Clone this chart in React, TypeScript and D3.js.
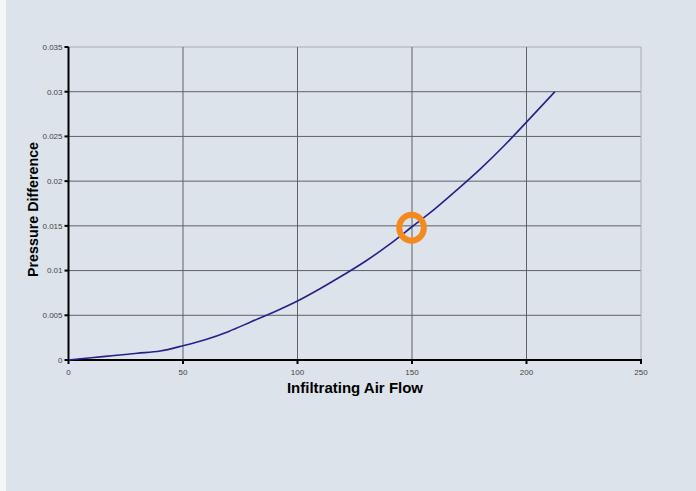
import React from "react";
import * as d3 from "d3";

const flow = [0, 10, 20, 30, 40, 50, 60, 70, 80, 90, 100, 110, 120, 130, 140, 150, 160, 170, 180, 190, 200, 212.4];
const pressure = [0, 0.00025, 0.0005, 0.00075, 0.001, 0.0016, 0.0023, 0.0032, 0.0043, 0.0054, 0.0066, 0.008, 0.0095, 0.0111, 0.0129, 0.0149, 0.0169, 0.0191, 0.0214, 0.0239, 0.0266, 0.03];
const xTicks = [0, 50, 100, 150, 200, 250];
const yTicks = [0, 0.005, 0.01, 0.015, 0.02, 0.025, 0.03, 0.035];
const highlight = { flow: 149.8, pressure: 0.0148 };

const W = 696;
const H = 491;
const left = 68.5;
const right = 641;
const top = 47;
const bottom = 360;

export default function App() {
  const x = d3.scaleLinear().domain([0, 250]).range([left, right]);
  const y = d3.scaleLinear().domain([0, 0.035]).range([bottom, top]);
  const pts: [number, number][] = flow.map((f, i) => [f, pressure[i]]);
  const line = d3
    .line<[number, number]>()
    .x((d) => x(d[0]))
    .y((d) => y(d[1]))
    .curve(d3.curveMonotoneX);
  const fmtY = (v: number) => (v === 0 ? "0" : String(+v.toFixed(3)));
  const font = "'Liberation Sans', Arial, sans-serif";
  return (
    <svg
      width={W}
      height={H}
      style={{ position: "absolute", left: 0, top: 0, display: "block" }}
      fontFamily={font}
    >
      <rect x={0} y={0} width={W} height={H} fill="#f4f6f8" />
      <rect x={6} y={0} width={W - 6} height={H} fill="#dde3ea" />
      {/* grid */}
      {yTicks.map((t) => (
        <line
          key={"gy" + t}
          x1={left}
          x2={right}
          y1={y(t)}
          y2={y(t)}
          stroke={t === 0.035 ? "#a9adb2" : "#5e6266"}
          strokeWidth={1}
        />
      ))}
      {xTicks.map((t) => (
        <line
          key={"gx" + t}
          x1={x(t)}
          x2={x(t)}
          y1={top}
          y2={bottom}
          stroke={t === 250 ? "#a9adb2" : "#5e6266"}
          strokeWidth={1}
        />
      ))}
      {/* axes */}
      <line x1={left} x2={left} y1={top} y2={bottom + 1} stroke="#000" strokeWidth={2} />
      <line x1={left - 1} x2={right + 1} y1={bottom} y2={bottom} stroke="#000" strokeWidth={2} />
      {yTicks.map((t) => (
        <g key={"ty" + t}>
          <line x1={left - 4} x2={left} y1={y(t)} y2={y(t)} stroke="#000" strokeWidth={2} />
          <text
            x={left - 6}
            y={y(t)}
            dy="0.35em"
            textAnchor="end"
            fontSize={8}
            fill="#444"
          >
            {fmtY(t)}
          </text>
        </g>
      ))}
      {xTicks.map((t) => (
        <g key={"tx" + t}>
          <line x1={x(t)} x2={x(t)} y1={bottom} y2={bottom + 4} stroke="#000" strokeWidth={2} />
          <text x={x(t)} y={375} textAnchor="middle" fontSize={8} fill="#444">
            {t}
          </text>
        </g>
      ))}
      {/* curve */}
      <path d={line(pts) || ""} fill="none" stroke="#25218a" strokeWidth={1.6} />
      {/* highlight ring */}
      <ellipse
        cx={x(highlight.flow)}
        cy={y(highlight.pressure)}
        rx={12.3}
        ry={13}
        fill="none"
        stroke="#f28a1e"
        strokeWidth={6}
      />
      {/* titles */}
      <text
        x={355}
        y={393.3}
        textAnchor="middle"
        fontSize={15}
        fontWeight="bold"
        fill="#000"
      >
        Infiltrating Air Flow
      </text>
      <text
        transform={`translate(37.5, ${(top + bottom) / 2 + 6}) rotate(-90)`}
        textAnchor="middle"
        fontSize={14.3}
        fontWeight="bold"
        fill="#000"
      >
        Pressure Difference
      </text>
    </svg>
  );
}
